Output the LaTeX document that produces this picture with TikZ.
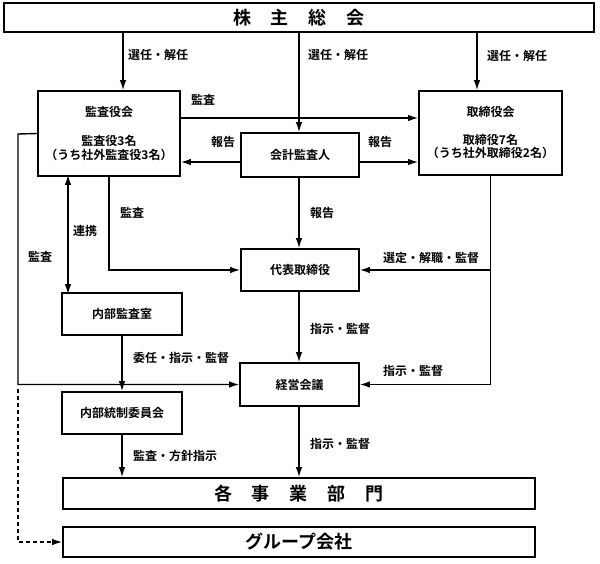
\documentclass[tikz,border=0pt]{standalone}
\usepackage{fontspec}
\setmainfont{Noto Sans CJK JP}[BoldFont={Noto Sans CJK JP Bold}]
\usetikzlibrary{arrows.meta}
\begin{document}
\begin{tikzpicture}[x=1pt,y=-1pt,
  box/.style={draw,line width=1.6pt,inner sep=0pt,align=center,
    font=\bfseries\fontsize{12}{13.5}\selectfont},
  bigbox/.style={box,font=\bfseries\fontsize{18}{20}\selectfont},
  lab/.style={anchor=west,inner sep=0pt,font=\bfseries\fontsize{12}{13}\selectfont},
  ln/.style={line width=1.4pt},
  arr/.style={ln,-{Latex[length=10pt,width=6.5pt]}},
  dbl/.style={ln,{Latex[length=10pt,width=6.5pt]}-{Latex[length=10pt,width=6.5pt]}},
]
\useasboundingbox (0,0) rectangle (600,564);

% boxes
\node[bigbox,minimum width=590pt,minimum height=29pt] (top) at (299,17.5)
  {株\hspace{20pt}主\hspace{20pt}総\hspace{20pt}会};
\node[box,minimum width=142pt,minimum height=85pt] (ka) at (109,133.5)
  {監査役会\\[16pt]監査役3名\\（うち社外監査役3名）};
\node[box,minimum width=143pt,minimum height=84pt] (tb) at (490.5,133)
  {取締役会\\[14pt]取締役7名\\（うち社外取締役2名）};
\node[box,minimum width=118pt,minimum height=44pt] (kk) at (300,155) {会計監査人};
\node[box,minimum width=118pt,minimum height=42pt] (dh) at (300,270) {代表取締役};
\node[box,minimum width=119pt,minimum height=43pt] (kg) at (299.5,384.5) {経営会議};
\node[box,minimum width=120pt,minimum height=42pt] (ns) at (122,314) {内部監査室};
\node[box,minimum width=120pt,minimum height=42pt] (nt) at (122,413) {内部統制委員会};
\node[bigbox,minimum width=472pt,minimum height=31pt] (bu) at (299,493.5)
  {各\hspace{20pt}事\hspace{20pt}業\hspace{20pt}部\hspace{20pt}門};
\node[bigbox,minimum width=472pt,minimum height=30pt] (gr) at (299,542) {グループ会社};

% helper coordinates
\coordinate (xl) at (123,0);
\coordinate (xm) at (299,0);
\coordinate (xr) at (477,0);
\coordinate (y118) at (0,118);
\coordinate (y162) at (0,162);
\coordinate (xk) at (68,0);
\coordinate (L) at (18,134);
\coordinate (D) at (18,389);

% connectors
\draw[arr] (top.south -| xl) -- (ka.north -| xl);
\draw[arr] (top.south -| xm) -- (kk.north -| xm);
\draw[arr] (top.south -| xr) -- (tb.north -| xr);
\draw[arr] (ka.east |- y118) -- (tb.west |- y118);
\draw[arr] (kk.west |- y162) -- (ka.east |- y162);
\draw[arr] (kk.east |- y162) -- (tb.west |- y162);
\draw[arr] (kk.south -| xm) -- (dh.north -| xm);
\draw[arr] (ka.south) |- (dh.west);
\draw[arr] (tb.south) |- (kg.east);
\draw[arr] (tb.south |- dh.east) -- (dh.east);
\draw[arr] (dh.south -| xm) -- (kg.north -| xm);
\draw[dbl] ([yshift=2pt]ka.south -| xk) -- ([yshift=-2pt]ns.north -| xk);
\draw[arr] (ka.west) -- (L) |- (kg.west);
\draw[arr] (ns.south) -- (nt.north);
\draw[ln,dash pattern=on 4pt off 3pt,-{Latex[length=10pt,width=6.5pt]}] (D) |- (gr.west);
\draw[arr] (nt.south) -- (bu.north -| nt.south);
\draw[arr] (kg.south -| xm) -- (bu.north -| xm);

% labels
\node[lab] (l1) at (128,55) {選任・解任};
\node[lab] (l2) at (308,55) {選任・解任};
\node[lab] (l3) at (487,56) {選任・解任};
\node[lab] (l4) at (191,100) {監査};
\node[lab] (l5) at (211,142) {報告};
\node[lab] (l6) at (368,142) {報告};
\node[lab] (l7) at (310,213) {報告};
\node[lab] (l8) at (120,213) {監査};
\node[lab] (l9) at (73,231) {連携};
\node[lab] (l10) at (28,257) {監査};
\node[lab] (l11) at (383,258) {選定・解職・監督};
\node[lab] (l12) at (310,329) {指示・監督};
\node[lab] (l13) at (383,371) {指示・監督};
\node[lab] (l14) at (133,358) {委任・指示・監督};
\node[lab] (l15) at (310,444) {指示・監督};
\node[lab] (l16) at (133,456) {監査・方針指示};
\end{tikzpicture}
\end{document}
